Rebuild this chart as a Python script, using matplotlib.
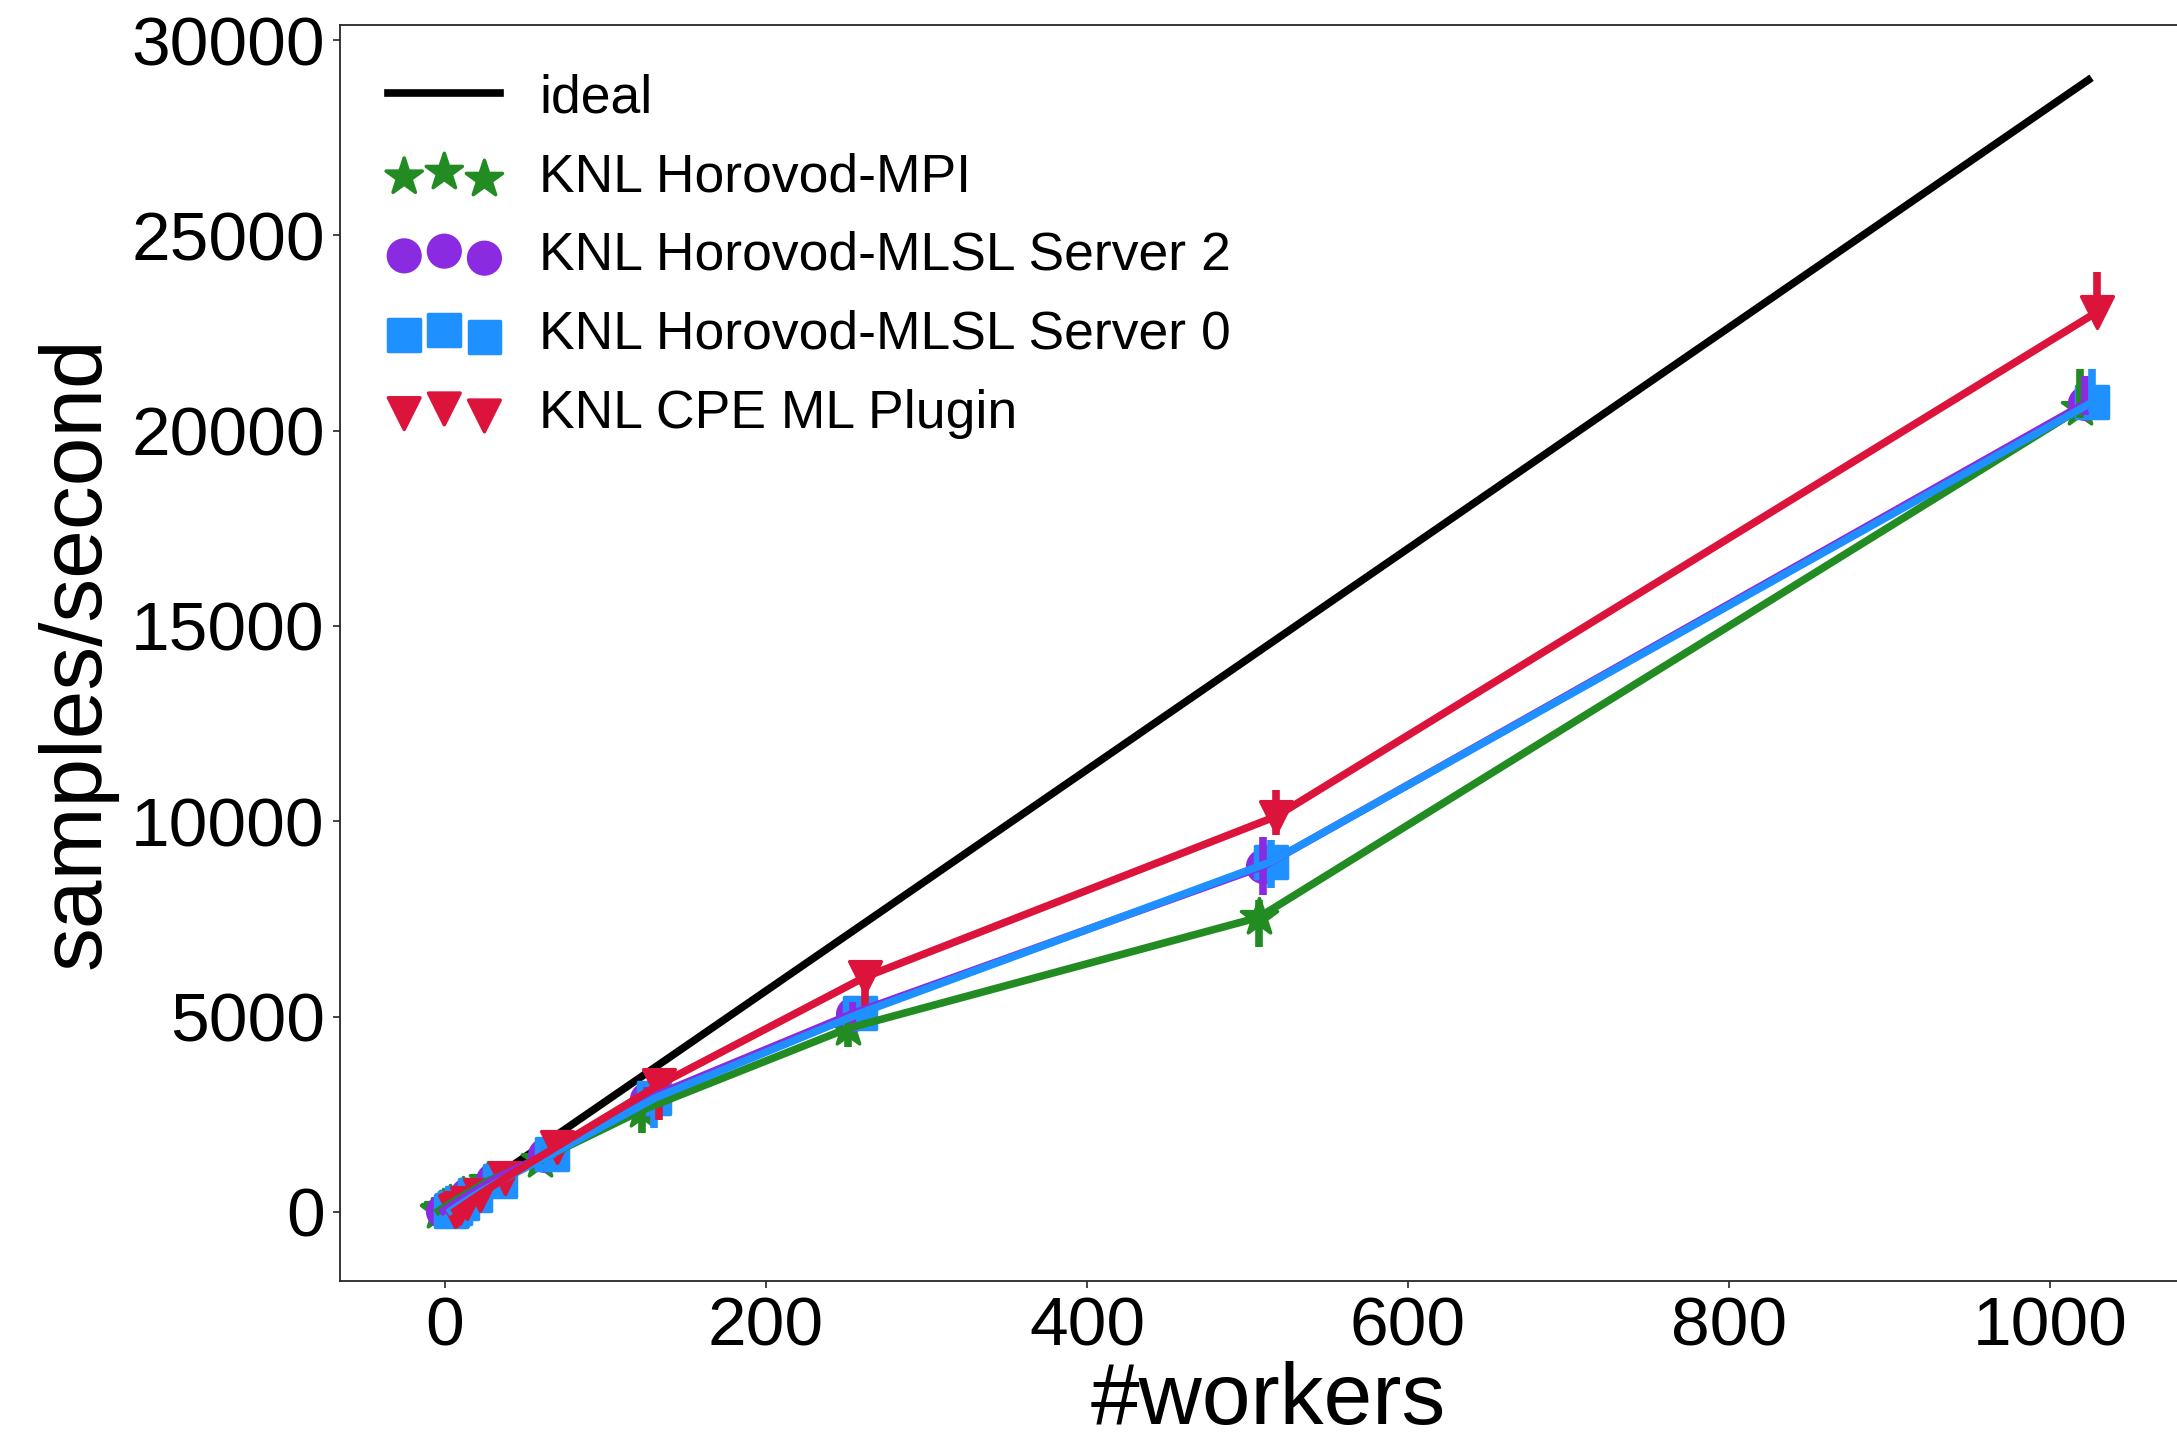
import matplotlib
matplotlib.use("Agg")
import matplotlib.pyplot as plt

plt.rcParams["font.family"] = ["Liberation Sans", "DejaVu Sans"]

# workers per run and throughput (samples/second)
workers = [1, 2, 4, 8, 16, 32, 64, 128, 256, 512, 1024]
ideal = [28.3, 56.6, 113, 226, 453, 906, 1811, 3622, 7245, 14490, 28979]

mpi = [27, 54, 105, 210, 410, 800, 1330, 2610, 4700, 7540, 20570]
mpi_lo = [5, 8, 10, 20, 40, 60, 100, 590, 470, 750, 250]
mpi_hi = [5, 8, 10, 20, 40, 60, 100, 300, 250, 440, 1000]

mlsl2 = [28, 55, 108, 215, 425, 820, 1460, 2900, 5080, 8850, 20700]
mlsl2_lo = [5, 8, 10, 20, 40, 60, 100, 300, 300, 725, 300]
mlsl2_hi = [5, 8, 10, 20, 40, 60, 100, 300, 300, 760, 700]

mlsl0 = [28, 55, 110, 218, 430, 800, 1480, 2910, 5085, 8960, 20730]
mlsl0_lo = [5, 8, 10, 20, 40, 60, 100, 768, 300, 665, 250]
mlsl0_hi = [5, 8, 10, 20, 40, 60, 100, 300, 300, 560, 860]

cpe = [28, 56, 112, 224, 445, 870, 1670, 3260, 6010, 10120, 23040]
cpe_lo = [5, 8, 10, 20, 40, 60, 100, 900, 725, 480, 300]
cpe_hi = [5, 8, 10, 20, 40, 60, 100, 300, 300, 680, 1030]

# label, values, lo, hi, colour, marker, x dodge (workers)
series = [
    ("KNL Horovod-MPI", mpi, mpi_lo, mpi_hi, "forestgreen", "*", -5),
    ("KNL Horovod-MLSL Server 2", mlsl2, mlsl2_lo, mlsl2_hi, "blueviolet", "o", -2),
    ("KNL Horovod-MLSL Server 0", mlsl0, mlsl0_lo, mlsl0_hi, "dodgerblue", "s", 2.5),
    ("KNL CPE ML Plugin", cpe, cpe_lo, cpe_hi, "crimson", "v", 5.5),
]
msize = {"*": 750, "o": 520, "s": 520, "v": 520}

fig = plt.figure(figsize=(21.77, 14.37), dpi=100)
# right edge of the axes sits just past the figure, as in the cropped original
ax = fig.add_axes([0.1562, 0.1088, 0.8525, 0.8738])

ax.plot(workers, ideal, color="black", lw=5.5, label="ideal", zorder=1)

# markers first, then the lines with error bars on top of them
for label, vals, lo, hi, col, mk, dx in series:
    xs = [w + dx for w in workers]
    ax.scatter(xs, vals, s=msize[mk], marker=mk, color=col, edgecolors=col,
               linewidths=2.5, label=label, zorder=2)
for label, vals, lo, hi, col, mk, dx in series:
    xs = [w + dx for w in workers]
    ax.errorbar(xs, vals, yerr=[lo, hi], fmt="-", color=col, lw=5.5,
                elinewidth=5.5, capsize=0, zorder=3)

ax.set_xlim(-65.4, 1091)
ax.set_ylim(-1758, 30384)
ax.set_xticks([0, 200, 400, 600, 800, 1000])
ax.set_yticks([0, 5000, 10000, 15000, 20000, 25000, 30000])
ax.tick_params(labelsize=50, length=5, width=1.2, color="#262626", pad=6)
for sp in ax.spines.values():
    sp.set_color("#262626")
    sp.set_linewidth(1.3)

ax.set_xlabel("#workers", fontsize=63, labelpad=1)
ax.set_ylabel("samples/second", fontsize=63, labelpad=10)

ax.legend(loc="upper left", frameon=False, fontsize=38.5, handlelength=2.1,
          handletextpad=0.72, labelspacing=0.54, scatterpoints=3)

fig.savefig("out.png", dpi=100)
